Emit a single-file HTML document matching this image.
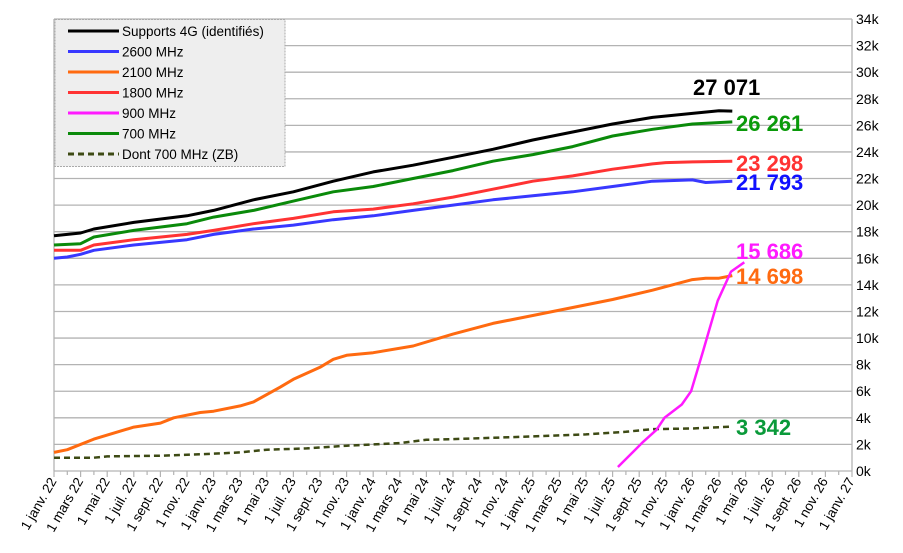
<!DOCTYPE html>
<html><head><meta charset="utf-8"><style>
body{margin:0;background:#fff;}
svg{display:block;font-family:"Liberation Sans",sans-serif;}
</style></head><body>
<svg id="s" width="903" height="553" xmlns="http://www.w3.org/2000/svg"></svg>
<script>
const s=document.getElementById('s');
const L=54,R=852,T=19,B=471,M=(R-L)/60,K=(B-T)/34;
const X=m=>L+m*M, Y=v=>B-v*K;
let h='';
for(let i=0;i<=17;i++){const y=Y(i*2);h+=`<line x1="${L}" y1="${y}" x2="${R}" y2="${y}" stroke="#b3b3b3" stroke-width="1.3"/>`;
h+=`<text x="${R+4}" y="${y+5}" font-size="14" fill="#000">${i*2}k</text>`;}
h+=`<line x1="${L}" y1="${T}" x2="${L}" y2="${B}" stroke="#b3b3b3" stroke-width="1.3"/><line x1="${R}" y1="${T}" x2="${R}" y2="${B}" stroke="#b3b3b3" stroke-width="1.3"/>`;
for(let m=0;m<=60;m++){const x=X(m);h+=`<line x1="${x}" y1="${B}" x2="${x}" y2="${B+(m%2?4:6)}" stroke="#b3b3b3" stroke-width="1.2"/>`;}
const mo=['janv.','mars','mai','juil.','sept.','nov.'];
for(let i=0;i<=30;i++){const x=X(i*2)+3,y=B+10;const lab='1 '+mo[i%6]+' '+(22+Math.floor(i/6));
h+=`<text transform="translate(${x},${y}) rotate(-60)" text-anchor="end" font-size="13.5" fill="#000">${lab}</text>`;}
function P(pts,c,w,d){return `<path d="${pts.map((p,i)=>(i?'L':'M')+X(p[0]).toFixed(1)+','+Y(p[1]).toFixed(1)).join('')}" fill="none" stroke="${c}" stroke-width="${w}" stroke-linejoin="round" ${d?'stroke-dasharray="'+d+'"':''}/>`;}
const dz=[[0,1],[3,1],[4,1.1],[8,1.15],[12,1.3],[14,1.4],[16,1.6],[19,1.7],[22,1.9],[24,2],[26,2.1],[28,2.35],[30,2.4],[33,2.5],[36,2.6],[40,2.75],[43,2.95],[45,3.15],[48,3.2],[51,3.34]];
const or=[[0,1.4],[1,1.6],[3,2.4],[5,3],[6,3.3],[8,3.6],[9,4],[11,4.4],[12,4.5],[14,4.9],[15,5.2],[17,6.3],[18,6.9],[20,7.8],[21,8.4],[22,8.7],[24,8.9],[27,9.4],[30,10.3],[33,11.1],[36,11.7],[39,12.3],[42,12.9],[45,13.6],[48,14.4],[49,14.5],[50,14.5],[51,14.7]];
const bl=[[0,16],[1,16.1],[2,16.3],[3,16.6],[6,17],[10,17.4],[12,17.8],[15,18.2],[18,18.5],[21,18.9],[24,19.2],[27,19.6],[30,20],[33,20.4],[36,20.7],[39,21],[42,21.4],[45,21.8],[48,21.9],[49,21.7],[51,21.8]];
const rd=[[0,16.6],[2,16.6],[3,17],[6,17.4],[10,17.8],[12,18.1],[15,18.6],[18,19],[21,19.5],[24,19.7],[27,20.1],[30,20.6],[33,21.2],[36,21.8],[39,22.2],[42,22.7],[45,23.1],[46,23.2],[48,23.25],[51,23.3]];
const gr=[[0,17],[2,17.1],[3,17.6],[6,18.1],[10,18.6],[12,19.1],[15,19.6],[18,20.3],[21,21],[24,21.4],[27,22],[30,22.6],[33,23.3],[36,23.8],[39,24.4],[42,25.2],[45,25.7],[48,26.1],[51,26.26]];
const bk=[[0,17.7],[2,17.9],[3,18.2],[6,18.7],[10,19.2],[12,19.6],[15,20.4],[18,21],[21,21.8],[24,22.5],[27,23],[30,23.6],[33,24.2],[36,24.9],[39,25.5],[42,26.1],[45,26.6],[48,26.9],[50,27.1],[51,27.07]];
const mg=[[42.4,0.3],[44.3,2.2],[45.3,3.1],[45.9,4],[47.2,5],[47.9,6],[48.8,9],[49.9,12.8],[50.9,15],[51.9,15.7]];
h+=P(dz,'#3d4a14',2.5,'6,4')+P(or,'#ff6a10',3)+P(bl,'#3838ff',3)+P(rd,'#ff3333',3)+P(gr,'#0a8a0a',3)+P(bk,'#000',3)+P(mg,'#ff1aff',2.5);
const lb=[['27 071','#000',693,95],['26 261','#0a9a0a',736,131],['23 298','#ff3333',736,171],['21 793','#1010ff',736,190],['15 686','#ff1aff',736,259],['14 698','#ff6a10',736,284],['3 342','#0a9a3a',736,435]];
lb.forEach(l=>h+=`<text x="${l[2]}" y="${l[3]}" font-size="22" font-weight="bold" fill="${l[1]}">${l[0]}</text>`);
h+=`<rect x="55" y="19.5" width="230" height="147" fill="#eeeeee" stroke="#aaa" stroke-dasharray="2,1"/>`;
const lg=[['Supports 4G (identifiés)','#000'],['2600 MHz','#3838ff'],['2100 MHz','#ff6a10'],['1800 MHz','#ff3333'],['900 MHz','#ff1aff'],['700 MHz','#0a8a0a'],['Dont 700 MHz (ZB)','#3d4a14']];
lg.forEach((l,i)=>{const y=31+i*20.5;h+=`<line x1="68" y1="${y}" x2="119" y2="${y}" stroke="${l[1]}" stroke-width="3" ${i==6?'stroke-dasharray="6,4"':''}/><text x="122" y="${y+5}" font-size="13.5" fill="#000">${l[0]}</text>`;});
s.innerHTML=h;
</script>
</body></html>
